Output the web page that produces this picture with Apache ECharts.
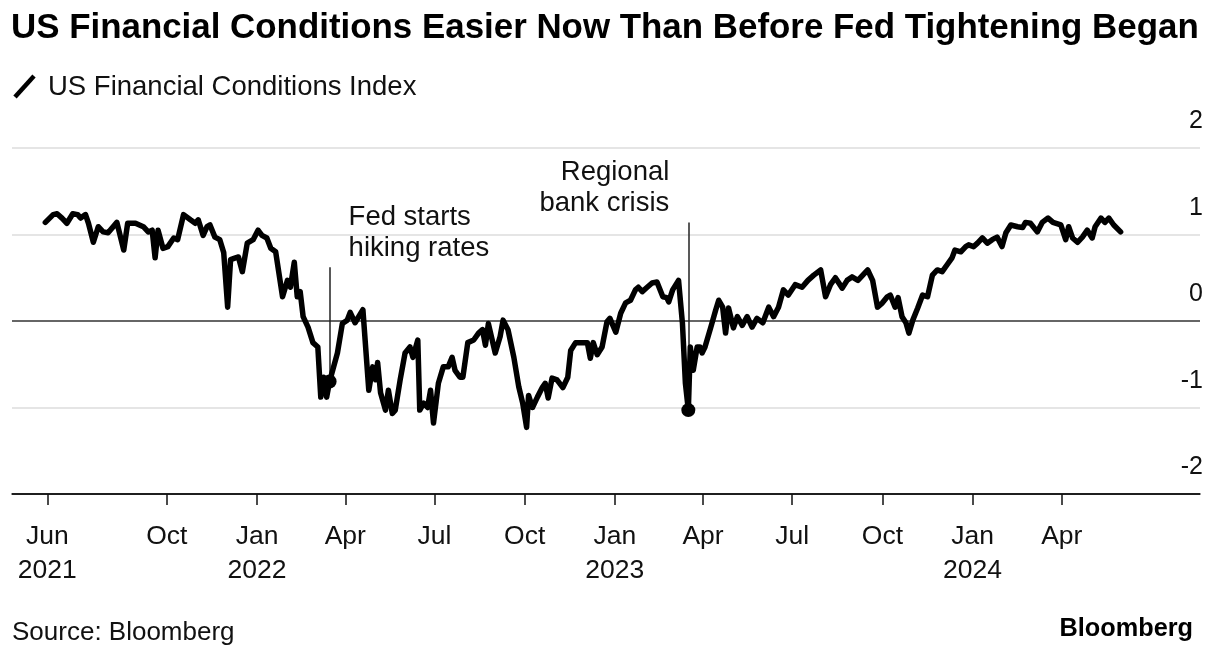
<!DOCTYPE html>
<html>
<head>
<meta charset="utf-8">
<script src="https://cdn.jsdelivr.net/npm/echarts@6/dist/echarts.min.js"></script>
<style>
html,body{margin:0;padding:0;background:#fff;}
#chart{width:1222px;height:654px;}
</style>
</head>
<body>
<div id="chart"></div>
<script>
const titleText = 'US Financial Conditions Easier Now Than Before Fed Tightening Began';
const seriesName = 'US Financial Conditions Index';
const sourceText = 'Source: Bloomberg';
const brandText = 'Bloomberg';

const dates = [
'2021-05-30','2021-06-07','2021-06-11','2021-06-16','2021-06-21','2021-06-27','2021-07-02','2021-07-05','2021-07-10','2021-07-13',
'2021-07-18','2021-07-23','2021-07-28','2021-08-02','2021-08-11','2021-08-18','2021-08-22','2021-08-30','2021-09-07','2021-09-12',
'2021-09-16','2021-09-19','2021-09-22','2021-09-27','2021-10-02','2021-10-08','2021-10-12','2021-10-18','2021-10-25','2021-10-30',
'2021-11-02','2021-11-07','2021-11-11','2021-11-14','2021-11-19','2021-11-24','2021-11-28','2021-12-02','2021-12-05','2021-12-10',
'2021-12-13','2021-12-17','2021-12-22','2021-12-28','2022-01-02','2022-01-06','2022-01-11','2022-01-15','2022-01-20','2022-01-27',
'2022-02-01','2022-02-04','2022-02-08','2022-02-11','2022-02-14','2022-02-17','2022-02-22','2022-02-27','2022-03-04','2022-03-07',
'2022-03-10','2022-03-13','2022-03-16','2022-03-24','2022-03-29','2022-04-03','2022-04-06','2022-04-11','2022-04-19','2022-04-25',
'2022-04-29','2022-05-02','2022-05-04','2022-05-07','2022-05-12','2022-05-15','2022-05-19','2022-05-22','2022-05-27','2022-06-01',
'2022-06-06','2022-06-09','2022-06-14','2022-06-16','2022-06-20','2022-06-24','2022-06-27','2022-06-30','2022-07-05','2022-07-10',
'2022-07-15','2022-07-19','2022-07-22','2022-07-27','2022-07-30','2022-08-04','2022-08-10','2022-08-15','2022-08-19','2022-08-22',
'2022-08-25','2022-09-01','2022-09-06','2022-09-09','2022-09-14','2022-09-20','2022-09-25','2022-09-29','2022-10-03','2022-10-05',
'2022-10-09','2022-10-14','2022-10-19','2022-10-22','2022-10-25','2022-10-29','2022-11-03','2022-11-09','2022-11-14','2022-11-17',
'2022-11-22','2022-11-29','2022-12-04','2022-12-07','2022-12-10','2022-12-14','2022-12-19','2022-12-24','2022-12-27','2023-01-02',
'2023-01-07','2023-01-12','2023-01-17','2023-01-22','2023-01-25','2023-01-29','2023-02-03','2023-02-08','2023-02-13','2023-02-19',
'2023-02-23','2023-02-25','2023-03-01','2023-03-07','2023-03-11','2023-03-14','2023-03-17','2023-03-19','2023-03-22','2023-03-26',
'2023-03-29','2023-03-31','2023-04-03','2023-04-09','2023-04-14','2023-04-17','2023-04-21','2023-04-24','2023-04-27','2023-05-02',
'2023-05-06','2023-05-11','2023-05-16','2023-05-21','2023-05-26','2023-06-01','2023-06-07','2023-06-12','2023-06-17','2023-06-22',
'2023-06-27','2023-07-04','2023-07-11','2023-07-17','2023-07-23','2023-07-30','2023-08-04','2023-08-09','2023-08-14','2023-08-21',
'2023-08-26','2023-08-31','2023-09-06','2023-09-11','2023-09-16','2023-09-21','2023-09-26','2023-10-01','2023-10-06','2023-10-09',
'2023-10-14','2023-10-17','2023-10-21','2023-10-25','2023-10-28','2023-11-01','2023-11-06','2023-11-11','2023-11-16','2023-11-21',
'2023-11-26','2023-12-01','2023-12-06','2023-12-11','2023-12-14','2023-12-20','2023-12-25','2023-12-28','2024-01-02','2024-01-06',
'2024-01-11','2024-01-16','2024-01-21','2024-01-26','2024-01-31','2024-02-04','2024-02-09','2024-02-16','2024-02-21','2024-02-24',
'2024-02-29','2024-03-07','2024-03-12','2024-03-18','2024-03-23','2024-03-31','2024-04-05','2024-04-08','2024-04-12','2024-04-17',
'2024-04-22','2024-04-27','2024-05-02','2024-05-05','2024-05-11','2024-05-15','2024-05-19','2024-05-24','2024-05-31'
];
const values = [
1.14,1.23,1.24,1.19,1.13,1.24,1.23,1.19,1.23,1.13,
0.91,1.09,1.03,1.02,1.14,0.82,1.13,1.13,1.09,1.03,
1.05,0.73,1.05,0.84,0.86,0.96,0.94,1.23,1.17,1.13,
1.17,0.99,1.09,1.11,0.97,0.94,0.79,0.16,0.71,0.73,
0.74,0.57,0.90,0.94,1.05,0.99,0.96,0.84,0.80,0.28,
0.47,0.39,0.68,0.28,0.34,0.05,-0.07,-0.25,-0.30,-0.88,
-0.65,-0.88,-0.70,-0.37,-0.03,0.01,0.10,-0.02,0.13,-0.80,
-0.53,-0.68,-0.48,-0.83,-1.03,-0.80,-1.07,-1.03,-0.68,-0.37,
-0.30,-0.42,-0.22,-1.03,-0.95,-1.00,-0.80,-1.18,-0.72,-0.53,
-0.53,-0.42,-0.57,-0.65,-0.65,-0.25,-0.22,-0.14,-0.10,-0.28,
-0.03,-0.37,-0.18,0.01,-0.10,-0.42,-0.76,-0.95,-1.23,-0.86,
-1.00,-0.88,-0.77,-0.72,-0.89,-0.66,-0.68,-0.77,-0.65,-0.34,
-0.25,-0.25,-0.25,-0.43,-0.25,-0.39,-0.30,-0.01,0.03,-0.13,
0.09,0.21,0.24,0.36,0.39,0.34,0.39,0.44,0.45,0.28,
0.27,0.22,0.36,0.47,-0.03,-0.72,-1.03,-0.30,-0.57,-0.30,
-0.30,-0.37,-0.30,-0.07,0.13,0.24,0.16,-0.14,0.15,-0.08,
0.05,-0.05,0.05,-0.07,0.03,-0.02,0.16,0.05,0.16,0.36,
0.30,0.42,0.39,0.47,0.53,0.59,0.28,0.42,0.50,0.38,
0.47,0.51,0.47,0.53,0.59,0.47,0.16,0.21,0.28,0.30,
0.16,0.27,0.05,-0.02,-0.14,0.01,0.15,0.30,0.28,0.53,
0.59,0.57,0.65,0.73,0.82,0.80,0.86,0.88,0.86,0.90,
0.96,0.90,0.94,0.97,0.86,1.02,1.11,1.09,1.08,1.14,
1.13,1.03,1.14,1.19,1.14,1.11,0.94,1.09,0.96,0.91,
0.97,1.05,0.96,1.09,1.19,1.14,1.19,1.11,1.03
];

const xRange = ['2021-04-26','2024-08-20'];
const tickDates = ['2021-06-01','2021-10-01','2022-01-01','2022-04-01','2022-07-01','2022-10-01','2023-01-01','2023-04-01','2023-07-01','2023-10-01','2024-01-01','2024-04-01'];
const tickLabels = ['Jun\n2021','Oct','Jan\n2022','Apr','Jul','Oct','Jan\n2023','Apr','Jul','Oct','Jan\n2024','Apr'];

const annoDates = ['2022-03-16','2023-03-17'];
const annoValues = [-0.70,-1.03];
const annoTops = [0.62,1.14];
const annoTexts = ['Fed starts\nhiking rates','Regional\nbank crisis'];
const annoSides = ['right','left'];

const FONT = '"Liberation Sans", Arial, sans-serif';
const ts = d => Date.parse(d + 'T00:00:00Z');
const tickTs = tickDates.map(ts);

const chart = echarts.init(document.getElementById('chart'), null, {renderer:'canvas'});

const lineData = dates.map((d,i) => [ts(d), values[i]]);
const markerData = annoDates.map((d,i) => [ts(d), annoValues[i]]);

const option = {
  animation: false,
  backgroundColor: '#fff',
  grid: {left: 12, right: 22, top: 148, bottom: 160, containLabel: false},
  xAxis: {
    type: 'value',
    min: ts(xRange[0]),
    max: ts(xRange[1]),
    axisLine: {show: true, onZero: false, lineStyle: {color: '#111', width: 1.5}},
    axisTick: {show: true, customValues: tickTs, length: 11, lineStyle: {color: '#111', width: 1.5}},
    axisLabel: {
      customValues: tickTs,
      color: '#111', fontSize: 26.5, fontFamily: FONT, lineHeight: 34, margin: 26,
      formatter: function (v) {
        const idx = tickTs.findIndex(t => Math.abs(t - v) < 86400000);
        return idx >= 0 ? tickLabels[idx] : '';
      }
    },
    splitLine: {show: false}
  },
  yAxis: {
    type: 'value',
    position: 'right',
    min: -2, max: 2, interval: 1,
    axisLine: {show: false},
    axisTick: {show: false},
    axisLabel: {
      inside: true, margin: -3, color: '#111', fontSize: 25, fontFamily: FONT,
      verticalAlign: 'bottom', padding: [0,0,14,0],
      formatter: v => String(v)
    },
    splitLine: {show: true, lineStyle: {color: ['#111','#dcdcdc','#333','#dcdcdc','#dcdcdc'], width: 1.5}}
  },
  series: [
    {
      type: 'line', data: lineData, showSymbol: false, symbol: 'none',
      lineStyle: {color: '#000', width: 5.5, join: 'round', cap: 'round'},
      z: 5
    },
    {
      type: 'scatter', data: markerData, symbol: 'circle', symbolSize: 14,
      itemStyle: {color: '#000', opacity: 1}, z: 6,
      markLine: {
        silent: true, symbol: ['none','none'],
        lineStyle: {color: '#222', width: 1.5, type: 'solid', opacity: 1},
        label: {show: false},
        data: annoDates.map((d,i) => [{coord: [ts(d), annoValues[i]]}, {coord: [ts(d), annoTops[i]]}])
      }
    }
  ],
  graphic: [
    {type:'text', left: 11, top: 11, style: {text: titleText, font: 'bold 34.9px ' + FONT, fill: '#000'}},
    {type:'line', shape: {x1: 15, y1: 97, x2: 34, y2: 76}, style: {stroke: '#000', lineWidth: 4.5}},
    {type:'text', left: 48, top: 73, style: {text: seriesName, font: '27.5px ' + FONT, fill: '#111'}},
    {type:'text', left: 12, top: 620, style: {text: sourceText, font: '26px ' + FONT, fill: '#111'}},
    {type:'text', right: 29, top: 617, style: {text: brandText, font: 'bold 25.3px ' + FONT, fill: '#000'}}
  ]
};
chart.setOption(option);

const annoGraphics = annoDates.map((d,i) => {
  const p = chart.convertToPixel({gridIndex: 0}, [ts(d), annoTops[i]]);
  const right = annoSides[i] === 'right';
  return {
    type: 'text',
    x: right ? p[0] + 19 : p[0] - 19,
    y: p[1] - 3,
    style: {
      text: annoTexts[i], font: '27.5px ' + FONT, fill: '#111', lineHeight: 31,
      align: right ? 'left' : 'right', verticalAlign: 'bottom'
    }
  };
});
chart.setOption({graphic: option.graphic.concat(annoGraphics)});
</script>
</body>
</html>
